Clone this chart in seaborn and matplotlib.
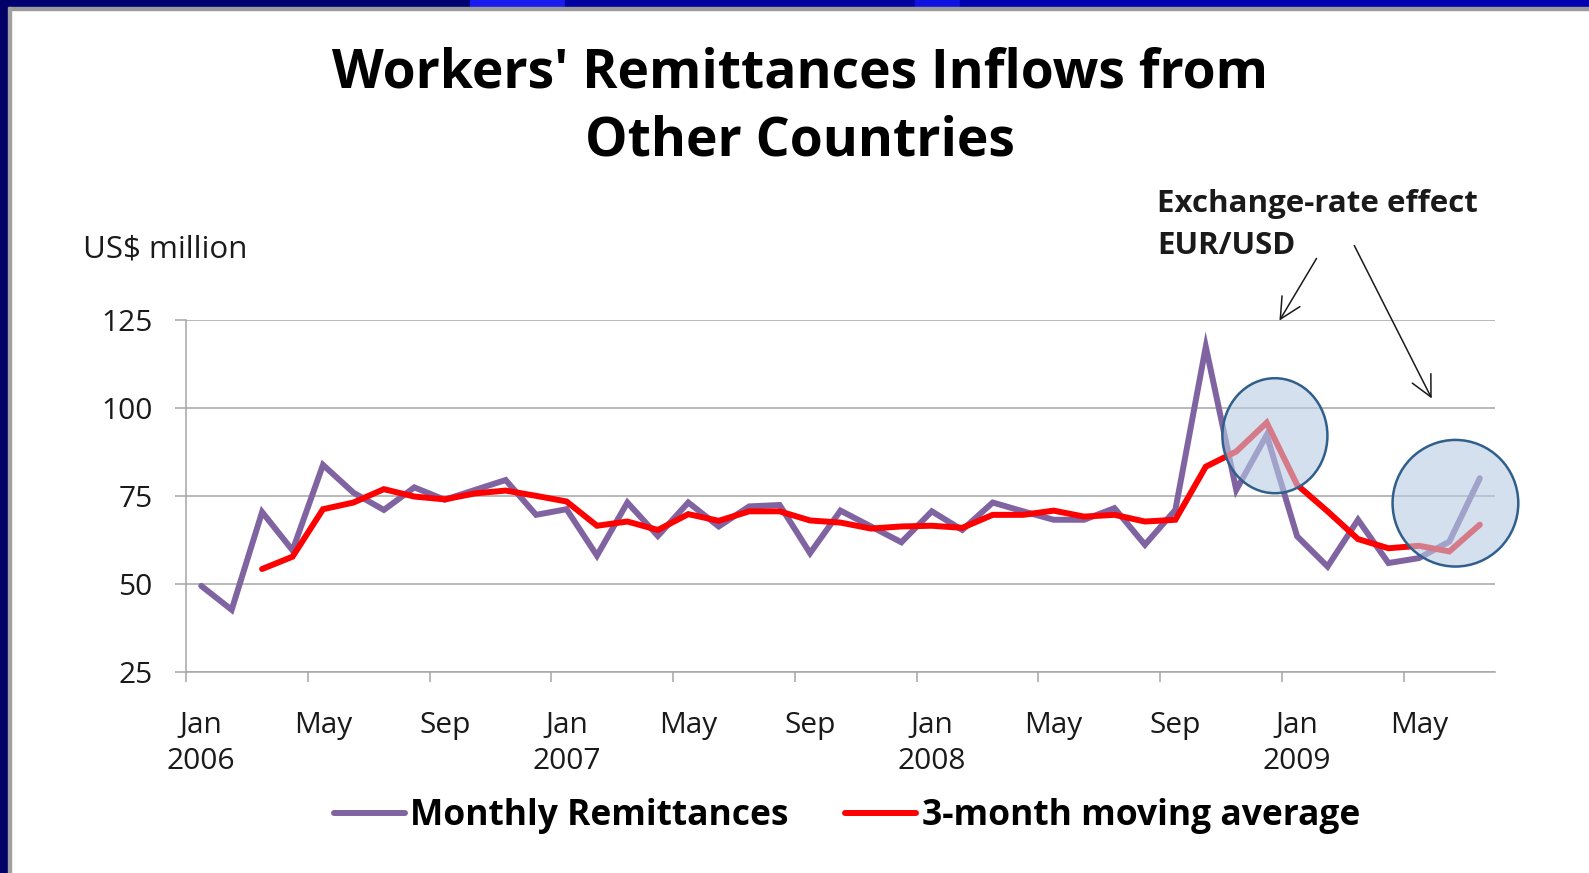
import numpy as np
import pandas as pd
import matplotlib
matplotlib.use("Agg")
import matplotlib.pyplot as plt
import seaborn as sns
from matplotlib.patches import Ellipse, Rectangle

# ---------------- data ----------------
month_names = ["Jan", "Feb", "Mar", "Apr", "May", "Jun", "Jul", "Aug", "Sep", "Oct", "Nov", "Dec"]
years = [2006, 2007, 2008, 2009]
tick_labels = ["Jan\n2006", "May", "Sep", "Jan\n2007", "May", "Sep",
               "Jan\n2008", "May", "Sep", "Jan\n2009", "May"]

monthly_remittances = [49.4, 42.6, 70.4, 59.5, 83.8, 75.9, 71.0, 77.4, 73.9, 76.7, 79.5, 69.6, 71.2, 58.0, 73.1,
                       63.6, 73.1, 66.3, 72.0, 72.4, 58.7, 70.8, 66.3, 61.8, 70.6, 65.3, 73.1, 70.6, 68.2,
                       68.2, 71.5, 61.1, 71.0, 117.4, 76.7, 92.3, 63.5, 54.9, 68.2, 55.9, 57.3, 62.0, 80.0]
moving_average = [np.nan, np.nan, 54.2, 57.7, 71.2, 73.1, 76.9, 74.8, 74.0, 75.7, 76.5, 75.0, 73.4, 66.5, 67.7,
                  65.3, 69.8, 67.9, 70.6, 70.6, 68.0, 67.4, 65.7, 66.3, 66.5, 65.9, 69.6, 69.6, 70.8,
                  69.1, 69.6, 67.7, 68.2, 83.3, 87.6, 95.8, 78.1, 70.6, 62.7, 60.1, 60.8, 59.2, 66.8]

labels_month = [f"{month_names[i % 12]} {years[i // 12]}" for i in range(len(monthly_remittances))]
df = pd.DataFrame({
    "month": labels_month,
    "idx": np.arange(len(monthly_remittances)),
    "Monthly Remittances": monthly_remittances,
    "3-month moving average": moving_average,
})

PURPLE = "#8064A2"
RED = "#FF0000"
GRID = "#A6A6A6"
TXT = "#1a1a1a"

# ---------------- style ----------------
sns.set_theme(style="white")
plt.rcParams["font.family"] = ["Open Sans", "DejaVu Sans"]

W, H = 1589, 873
fig = plt.figure(figsize=(W / 100, H / 100), dpi=100)
fig.patch.set_facecolor("white")

def px(x0, y0, w, h):
    return [x0 / W, 1 - (y0 + h) / H, w / W, h / H]

# slide frame decoration
for (x0, x1, c) in [(0, 470, "#000070"), (470, 565, "#1a1aee"), (565, 915, "#0000a0"),
                    (915, 960, "#1010e0"), (960, W, "#0000b0")]:
    fig.patches.append(Rectangle((x0 / W, 1 - 7 / H), (x1 - x0) / W, 7 / H,
                                 transform=fig.transFigure, color=c, zorder=0))
fig.patches.append(Rectangle((0, 1 - 10 / H), 1, 3 / H, transform=fig.transFigure, color="#9a9a9a", zorder=0))
fig.patches.append(Rectangle((0, 0), 8 / W, 1, transform=fig.transFigure, color="#000066", zorder=1))
fig.patches.append(Rectangle((8 / W, 0), 3 / W, 1 - 7 / H, transform=fig.transFigure, color="#a0a0a0", zorder=1))

ax = fig.add_axes(px(186, 320, 1309, 351.7))
ax.set_facecolor("white")

sns.lineplot(data=df, x="idx", y="Monthly Remittances", ax=ax, color=PURPLE, linewidth=4.3,
             label="Monthly Remittances", zorder=3, solid_capstyle="round", solid_joinstyle="miter")
df_ma = df.dropna(subset=["3-month moving average"])
sns.lineplot(data=df_ma, x="idx", y="3-month moving average", ax=ax, color=RED, linewidth=4.3,
             label="3-month moving average", zorder=4, solid_capstyle="round", solid_joinstyle="miter")

n = len(monthly_remittances)
ax.set_xlim(-0.5, n - 0.5)
ax.set_ylim(25, 125)
ax.set_xlabel("")
ax.set_ylabel("")

# y axis
ax.set_yticks([25, 50, 75, 100, 125])
ax.yaxis.grid(True, color=GRID, linewidth=1.1)
ax.tick_params(axis="y", which="major", direction="out", length=8, width=1.1, color=GRID,
               pad=16, labelsize=21.5, labelcolor=TXT, left=True)

# x axis: boundary ticks (major, no labels) and label ticks at month centres (minor)
ax.set_xticks(np.arange(-0.5, n - 1, 4))
ax.set_xticklabels([])
ax.set_xticks(np.arange(0, n, 4), minor=True)
ax.set_xticklabels(tick_labels, minor=True)
ax.tick_params(axis="x", which="major", direction="out", length=7, width=1.1, color=GRID, bottom=True)
ax.tick_params(axis="x", which="minor", length=0, pad=28, labelsize=21.5, labelcolor=TXT)
for t in ax.get_xticklabels(minor=True):
    t.set_linespacing(1.32)

for s in ["top", "right"]:
    ax.spines[s].set_visible(False)
for s in ["left", "bottom"]:
    ax.spines[s].set_color(GRID)
    ax.spines[s].set_linewidth(1.1)

# highlight circles
for (cx, cy, w, h) in [(35.27, 92.1, 3.45, 32.7), (41.2, 72.9, 4.13, 36.0)]:
    ax.add_patch(Ellipse((cx, cy), w, h, facecolor="#B8CCE4", alpha=0.6, edgecolor="none",
                         zorder=5, clip_on=False))
    ax.add_patch(Ellipse((cx, cy), w, h, facecolor="none", edgecolor="#2F5F8A", linewidth=1.8,
                         zorder=6, clip_on=False))

# legend
ax.legend_.remove()
handles, labels = ax.get_legend_handles_labels()
leg = fig.legend(handles, labels, loc="center", bbox_to_anchor=(847 / W, 1 - 816 / H), ncol=2,
                 frameon=False, prop={"weight": "bold", "size": 25.5}, handlelength=2.0,
                 handletextpad=0.15, columnspacing=1.6)
for t in leg.get_texts():
    t.set_color("black")

# titles and texts
fig.text(800 / W, 1 - 73 / H, "Workers' Remittances Inflows from", ha="center", va="center",
         fontsize=38.5, fontweight="bold", color="black")
fig.text(800 / W, 1 - 141 / H, "Other Countries", ha="center", va="center",
         fontsize=38.5, fontweight="bold", color="black")
fig.text(83 / W, 1 - 250 / H, "US$ million", ha="left", va="center", fontsize=22.5, color=TXT)
fig.text(1157 / W, 1 - 204 / H, "Exchange-rate effect", ha="left", va="center", fontsize=22.5,
         fontweight="bold", color=TXT)
fig.text(1157 / W, 1 - 246 / H, "EUR/USD", ha="left", va="center", fontsize=22.5,
         fontweight="bold", color=TXT)

# arrows (figure pixel coordinates)
for (x0, y0, x1, y1) in [(1318, 256, 1278, 323), (1353, 243, 1433, 401)]:
    fig.add_artist(matplotlib.patches.FancyArrowPatch(
        (x0 / W, 1 - y0 / H), (x1 / W, 1 - y1 / H), transform=fig.transFigure,
        arrowstyle="->,head_length=10,head_width=5", mutation_scale=1.5,
        color=TXT, linewidth=1.1))

fig.savefig("out.png", dpi=100, facecolor="white")
